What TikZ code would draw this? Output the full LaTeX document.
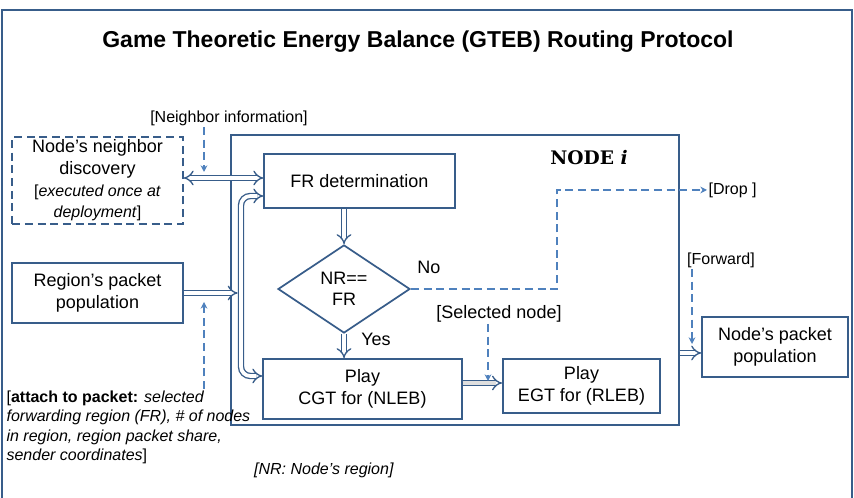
\documentclass[tikz,border=0pt]{standalone}
\usepackage{fontspec}
\setmainfont{Liberation Sans}
\newfontfamily\headfont{DejaVu Serif}
\usetikzlibrary{arrows.meta,shapes.geometric,calc,positioning}
\definecolor{boxblue}{RGB}{56,93,138}
\definecolor{dashblue}{RGB}{79,129,189}
\newcommand{\bodyfont}{\fontsize{13.5}{16.2}\selectfont}
\newcommand{\notefont}{\fontsize{12}{14.6}\selectfont}
\tikzset{
    box/.style={draw=boxblue, line width=1.3pt, align=center, inner sep=2pt, font=\bodyfont},
    dashbox/.style={box, dash pattern=on 6pt off 3.5pt},
    decision/.style={draw=boxblue, line width=1.3pt, diamond, aspect=1.5, inner sep=0pt,
        minimum width=99pt, minimum height=66pt, align=center, font=\bodyfont},
    note/.style={inner sep=1pt, font=\notefont},
    dbl/.style={draw=boxblue, line width=1pt, double=white, double distance=2.8pt, -{Implies}},
    dasharrow/.style={draw=dashblue, line width=1.1pt, dash pattern=on 6pt off 3.5pt,
        -{Stealth[length=5pt,width=5pt]}}
}
\begin{document}
\begin{tikzpicture}[x=0.75pt, y=-0.75pt]
    \useasboundingbox (0,0) rectangle (854,498);
    %% outer frame
    \draw[boxblue, line width=1.3pt] (2,505) -- (2,10) -- (852,10) -- (852,505);
    \node[font=\bfseries\fontsize{17.25}{20}\selectfont] (title) at (418,42)
        {Game Theoretic Energy Balance (GTEB) Routing Protocol};
    %% node i
    \node[box, minimum width=336pt, minimum height=217.5pt] (nodei) at (455,280) {};
    \node[font=\headfont\bfseries\fontsize{14}{16}\selectfont] (nodename) at (589,158) {NODE \textit{i}};
    \node[box, minimum width=143pt, minimum height=41pt] (fr) at (359.5,181) {FR determination};
    \node[decision] (nr) at (344,289) {NR==\\FR};
    \node[box, minimum width=149pt, minimum height=45pt] (cgt) at (362.5,389) {Play\\CGT for (NLEB)};
    \node[box, minimum width=118pt, minimum height=40.5pt] (egt) at (581.5,386) {Play\\EGT for (RLEB)};
    \node[font=\bodyfont] (no) at (429,267) {No};
    \node[font=\bodyfont] (yes) at (376,339) {Yes};
    \node[note, font=\bodyfont] (selnode) at (499,314) {[Selected node]};
    %% outside boxes
    \node[dashbox, minimum width=128pt, minimum height=58pt] (discovery) at (97.5,180.5)
        {Node’s neighbor\\discovery\\{\notefont[\textit{executed once at}}\\{\notefont\textit{deployment}]}};
    \node[box, minimum width=128pt, minimum height=45pt] (regpop) at (97.5,293) {Region’s packet\\population};
    \node[box, minimum width=109.5pt, minimum height=45pt] (outpop) at (775,347) {Node’s packet\\population};
    %% notes
    \node[note] (nbinfo) at (229,118) {[Neighbor information]};
    \node[note, anchor=west] (drop) at (707,190) {[Drop ]};
    \node[note] (fwd) at (721,260) {[Forward]};
    \node[note, align=left, anchor=north west] (attach) at (5,389)
        {[\textbf{attach to packet:} \textit{selected}\\
         \textit{forwarding region (FR), \# of nodes}\\
         \textit{in region, region packet share,}\\
         \textit{sender coordinates}]};
    \node[note] (nrnote) at (324,470) {\textit{[NR: Node’s region]}};
    %% helper points
    \coordinate (bus) at (241,293);
    \coordinate (nblink) at (204,178);
    \coordinate (nbtip) at (204,172);
    \coordinate (regtip) at (204,302);
    \coordinate (seltip) at (488,381);
    \coordinate (nocorner) at (557,190);
    \coordinate (fwdtip) at (692,344);
    \coordinate (play) at ($(egt.west)+(0,-3)$);
    \coordinate (out) at ($(outpop.west)+(0,6)$);
    %% double arrows
    \draw[dbl] (fr.south -| nr) -- (nr.north);
    \draw[dbl] (nr.south) -- (nr.south |- cgt.north);
    \draw[dbl, double=gray!25] (play -| cgt.east) -- (play);
    \draw[dbl, {Implies}-{Implies}] (discovery.east |- nblink) -- (fr.west |- nblink);
    \draw[dbl, {Implies}-{Implies}, rounded corners=7pt]
        ($(fr.west)+(0,15)$) -| (bus) |- ($(cgt.west)+(0,-13)$);
    \draw[dbl, shorten >=2.5pt] (regpop.east) -- (bus);
    \draw[dbl] (nodei.east |- out) -- (out);
    %% dashed arrows
    \draw[dasharrow] (nbinfo.south -| nbtip) -- (nbtip);
    \draw[dasharrow] (attach.north -| regtip) -- (regtip);
    \draw[dasharrow] (selnode.south -| seltip) -- (seltip);
    \draw[dasharrow] (nr.east) -| (nocorner) -- (drop.west);
    \draw[dasharrow] (fwd.south -| fwdtip) -- (fwdtip);
\end{tikzpicture}
\end{document}
